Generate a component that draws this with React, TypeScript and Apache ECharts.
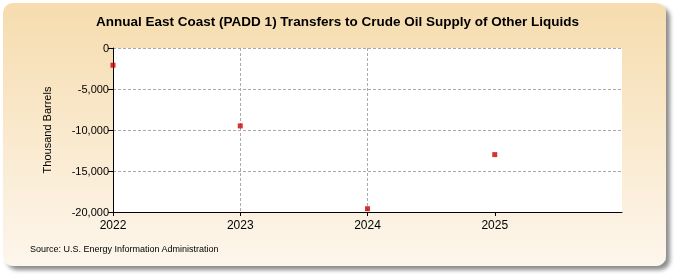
import React, { useEffect, useRef } from "react";
import * as echarts from "echarts";

const years = [2022, 2023, 2024, 2025];
const values = [-2100, -9500, -19600, -13000];
const yTicks = [0, -5000, -10000, -15000, -20000];

export default function App() {
  const ref = useRef<HTMLDivElement>(null);
  useEffect(() => {
    if (!ref.current) return;
    const chart = echarts.init(ref.current, undefined, { renderer: "svg" });
    const font = "Liberation Sans, Arial, sans-serif";
    chart.setOption({
      animation: false,
      graphic: [
        {
          type: "rect",
          z: -10,
          silent: true,
          shape: { x: 3, y: 3, width: 663, height: 263, r: 10 },
          style: {
            fill: new echarts.graphic.LinearGradient(0, 0, 0, 1, [
              { offset: 0, color: "#F6DCAE" },
              { offset: 1, color: "#FDF6EC" },
            ]),
            shadowBlur: 4,
            shadowOffsetX: 4,
            shadowOffsetY: 4,
            shadowColor: "rgba(0,0,0,0.45)",
          },
        },
        {
          type: "text",
          left: "center",
          top: 14,
          style: {
            text: "Annual East Coast (PADD 1) Transfers to Crude Oil Supply of Other Liquids",
            font: `bold 13.5px ${font}`,
            fill: "#000",
          },
        },
        {
          type: "text",
          left: 30,
          top: 244,
          style: {
            text: "Source: U.S. Energy Information Administration",
            font: `9px ${font}`,
            fill: "#000",
          },
        },
      ],
      grid: { left: 113, top: 48, right: 53, bottom: 63, show: true, backgroundColor: "#fff", borderWidth: 0 },
      xAxis: {
        type: "value",
        min: 2022,
        max: 2026,
        interval: 1,
        axisLine: { show: true, onZero: false, lineStyle: { color: "#000", width: 1 } },
        axisTick: { show: true, length: 4, lineStyle: { color: "#000" }, customValues: years },
        axisLabel: {
          color: "#000",
          fontFamily: font,
          fontSize: 12,
          margin: 7,
          customValues: years,
          formatter: (v: number) => String(v),
        },
        splitLine: {
          show: true,
          showMaxLine: false,
          lineStyle: { color: "#aaa", type: [3, 2], width: 1 },
        },
      },
      yAxis: {
        type: "value",
        min: -20000,
        max: 0,
        interval: 5000,
        name: "Thousand Barrels",
        nameLocation: "middle",
        nameGap: 61,
        nameTextStyle: { color: "#000", fontFamily: font, fontSize: 11 },
        axisLine: { show: true, lineStyle: { color: "#000", width: 1 } },
        axisTick: { show: true, length: 5, lineStyle: { color: "#000" } },
        axisLabel: {
          color: "#000",
          fontFamily: font,
          fontSize: 11,
          margin: 4,
          customValues: yTicks,
          formatter: (v: number) => v.toLocaleString("en-US"),
        },
        splitLine: {
          show: true,
          showMinLine: false,
          lineStyle: { color: "#aaa", type: [3, 2], width: 1 },
        },
      },
      series: [
        {
          type: "scatter",
          data: years.map((y, i) => [y, values[i]]),
          symbol: "rect",
          symbolSize: 5,
          itemStyle: { color: "#CC0000" },
        },
      ],
    });
    return () => chart.dispose();
  }, []);
  return <div ref={ref} style={{ position: "fixed", left: 0, top: 0, width: 675, height: 275 }} />;
}
